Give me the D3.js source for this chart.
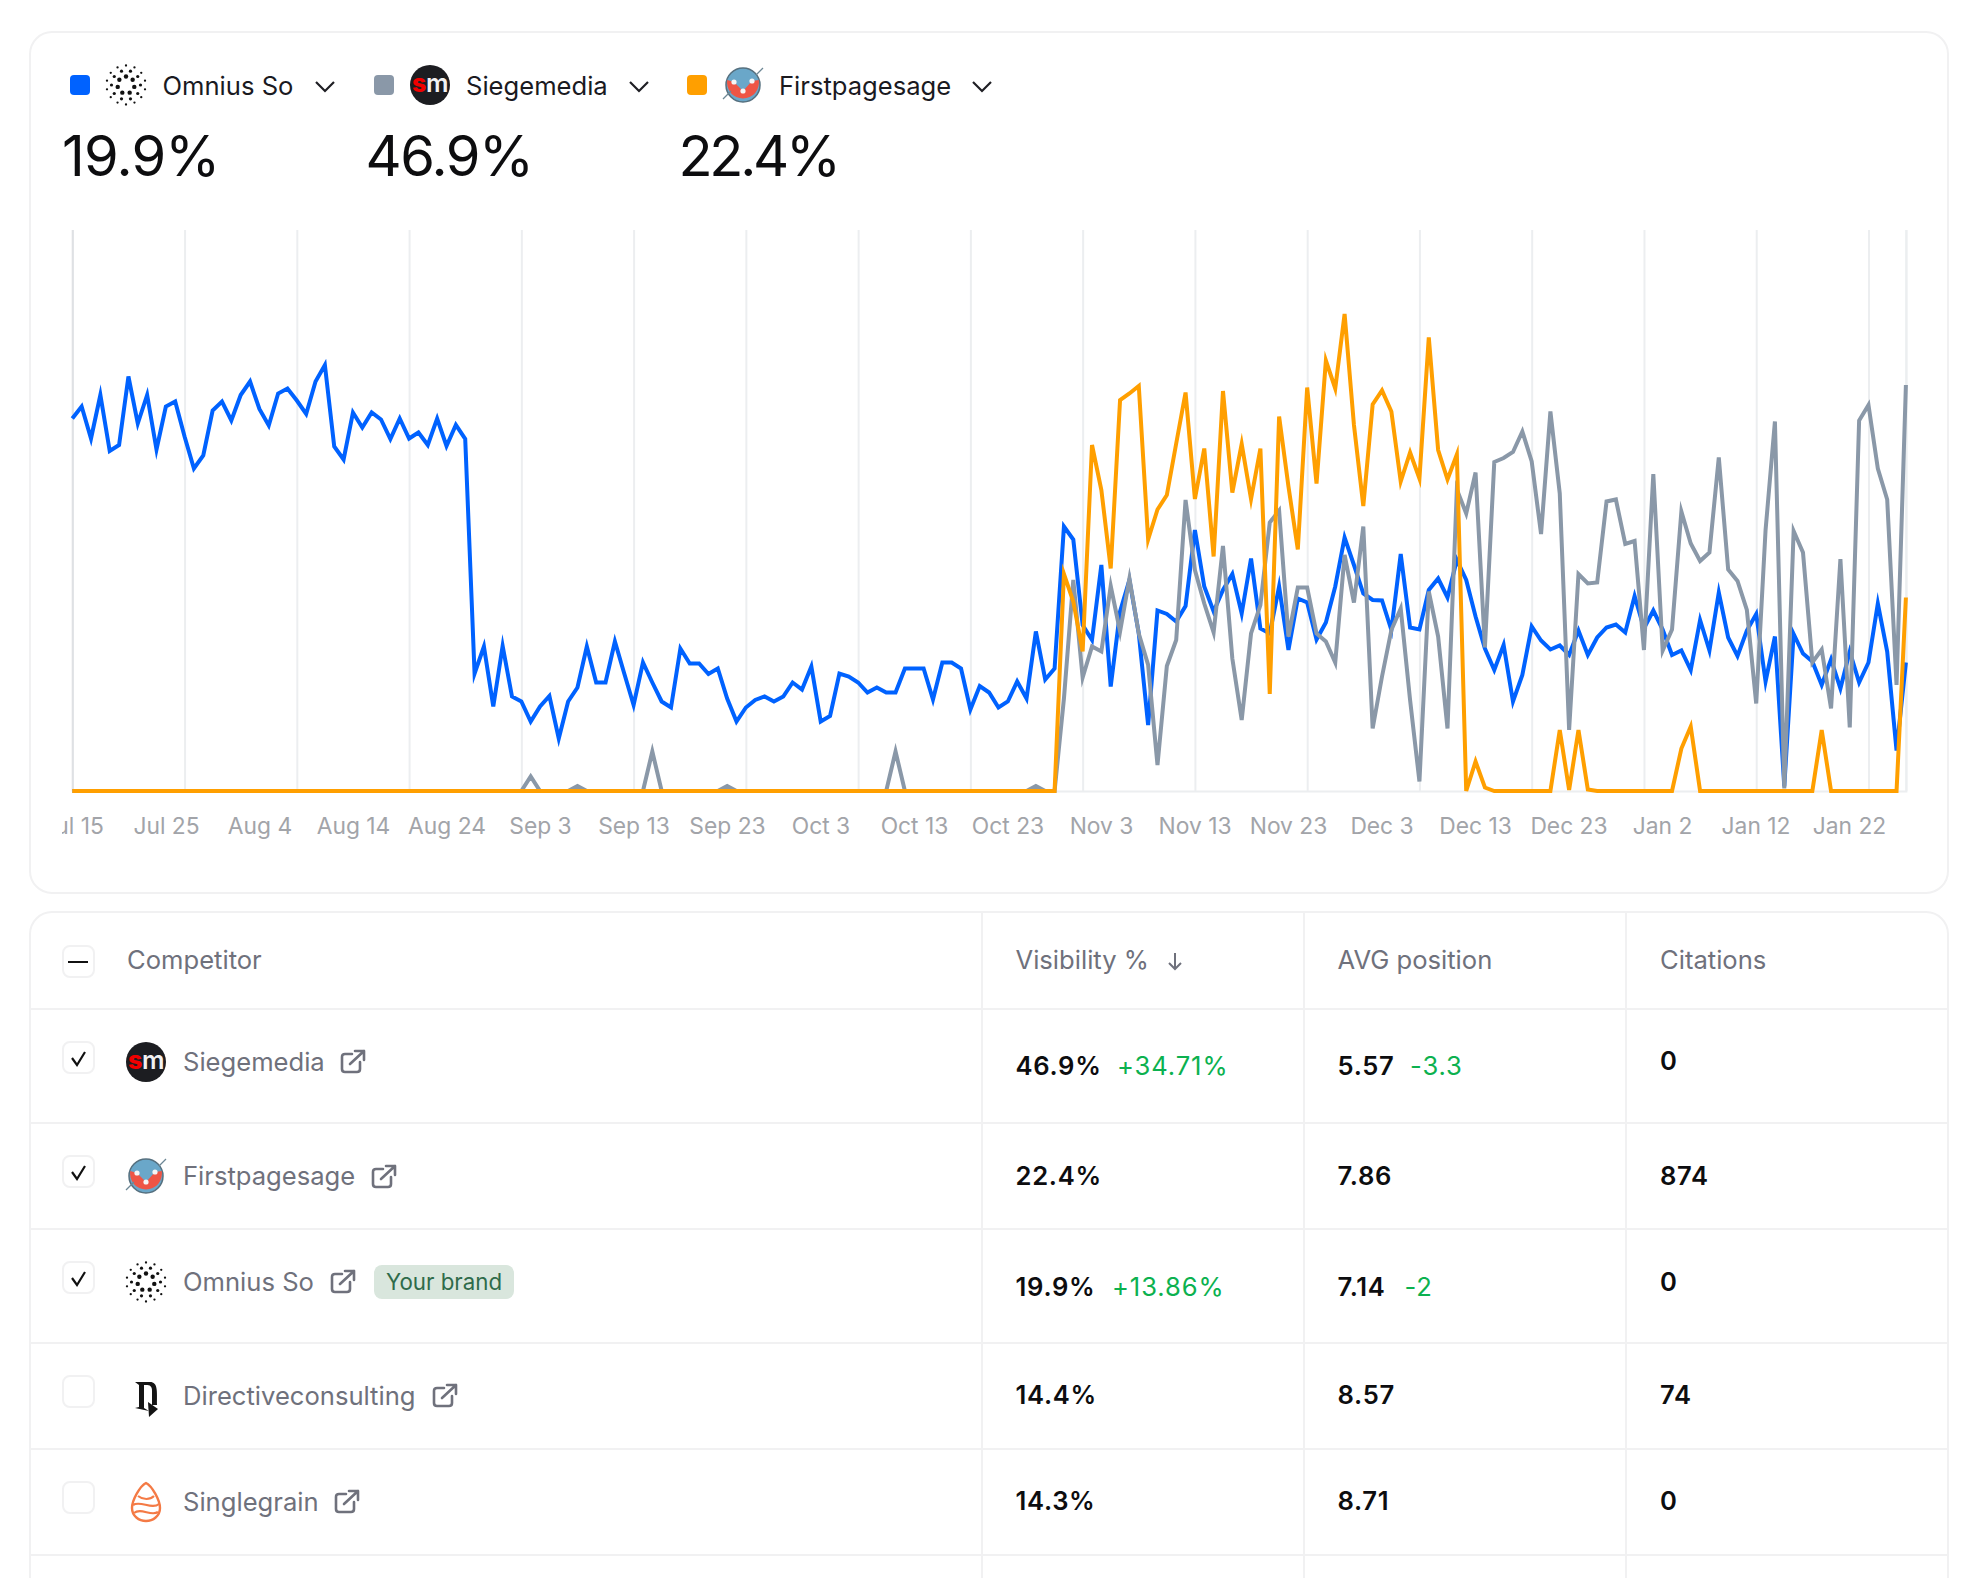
<!DOCTYPE html>
<html><head><meta charset="utf-8">
<script src="https://cdn.jsdelivr.net/npm/d3@7"></script>
<style>
html,body{margin:0;padding:0;background:#fff;overflow:hidden}
svg{display:block}
text{font-family:Inter,"Noto Sans",sans-serif}
</style></head><body>
<script>
const blue=[74.5,76.9,70.5,79.2,68.0,69.2,82.9,73.5,79.2,68.3,
76.9,77.9,70.9,64.5,67.1,76.1,77.9,74.1,79.2,81.9,
76.4,73.1,79.5,80.5,78.1,75.4,81.9,85.2,68.9,66.3,
75.7,72.7,75.7,74.3,70.4,74.5,70.5,71.7,69.2,74.5,
69.0,73.2,70.4,23.5,28.9,16.9,29.0,18.9,17.9,13.9,
16.9,19.0,10.5,17.9,20.7,28.9,21.7,21.7,29.9,23.5,
17.2,25.7,21.7,17.9,16.7,28.5,25.5,25.5,23.4,24.5,
18.5,13.9,16.7,18.2,18.9,17.9,18.9,21.7,20.3,24.9,
13.9,15.0,23.5,22.9,21.7,19.7,20.7,19.7,19.7,24.5,
24.5,24.5,18.3,25.7,25.7,24.5,16.3,21.0,19.7,16.7,
17.9,21.9,18.5,31.9,22.3,24.5,52.9,50.3,33.2,30.2,
45.2,20.9,35.9,42.2,31.5,13.2,36.1,35.4,33.9,37.0,
52.2,40.9,35.9,40.2,43.4,35.5,46.5,32.5,31.5,40.9,
28.2,38.5,37.7,30.3,33.7,40.9,50.7,45.2,39.5,38.2,
38.1,32.2,47.4,32.7,32.3,40.2,42.5,38.7,46.2,42.2,
34.9,28.5,24.2,29.2,17.9,23.2,32.9,30.1,28.3,29.1,
27.2,32.1,27.2,30.7,32.7,33.3,31.7,39.0,32.5,36.1,
32.3,27.2,28.1,24.2,34.2,28.1,39.7,30.7,27.0,32.1,
35.4,21.9,30.9,0.9,31.4,27.5,25.9,21.2,26.3,20.5,
27.9,21.7,25.7,37.5,27.9,8.1,25.7];
const gray=[0,0,0,0,0,0,0,0,0,0,
0,0,0,0,0,0,0,0,0,0,
0,0,0,0,0,0,0,0,0,0,
0,0,0,0,0,0,0,0,0,0,
0,0,0,0,0,0,0,0,0,2.9,
0,0,0,0,1.0,0,0,0,0,0,
0,0,7.9,0,0,0,0,0,0,0,
1.0,0,0,0,0,0,0,0,0,0,
0,0,0,0,0,0,0,0,7.9,0,
0,0,0,0,0,0,0,0,0,0,
0,0,0,1.0,0,0,18.5,42.2,22.7,28.9,
27.9,41.0,31.9,42.5,31.5,25.2,5.2,25.0,30.2,58.2,
44.2,37.5,31.7,49.0,26.5,14.2,31.5,37.2,53.7,56.1,
30.9,40.7,40.7,31.5,29.9,25.7,47.2,37.7,52.9,12.5,
22.9,32.2,36.5,18.2,1.9,39.9,30.9,12.5,60.3,55.5,
63.7,28.7,65.8,66.6,67.8,71.9,65.9,51.4,75.9,59.5,
12.2,43.4,41.5,41.7,57.9,58.3,49.4,50.0,28.2,63.4,
28.1,32.3,55.9,49.5,46.0,47.7,66.7,44.3,42.0,36.2,
17.5,52.2,73.9,0.5,52.0,47.7,25.7,28.3,16.5,46.4,
12.7,74.1,77.2,64.5,58.3,21.2,81.2];
const orange=[0,0,0,0,0,0,0,0,0,0,
0,0,0,0,0,0,0,0,0,0,
0,0,0,0,0,0,0,0,0,0,
0,0,0,0,0,0,0,0,0,0,
0,0,0,0,0,0,0,0,0,0,
0,0,0,0,0,0,0,0,0,0,
0,0,0,0,0,0,0,0,0,0,
0,0,0,0,0,0,0,0,0,0,
0,0,0,0,0,0,0,0,0,0,
0,0,0,0,0,0,0,0,0,0,
0,0,0,0,0,0,43.4,37.9,27.9,69.2,
60.2,44.5,78.2,79.5,81.0,50.3,56.3,59.2,69.5,79.7,
58.4,68.5,46.9,80.0,59.7,69.4,58.4,68.5,19.4,74.9,
60.9,48.3,80.7,61.5,86.1,80.5,95.4,73.2,57.0,77.3,
80.1,75.9,61.9,67.7,62.5,90.7,68.2,62.3,67.3,0,
5.9,0.7,0,0,0,0,0,0,0,12.2,
0.2,12.2,0.3,0,0,0,0,0,0,0,
0,0,8.5,12.9,0,0,0,0,0,0,
0,0,0,0,0,0,0,12.2,0,0,
0,0,0,0,0,0,38.7];
const tickLabels=["Jul 15","Jul 25","Aug 4","Aug 14","Aug 24","Sep 3","Sep 13","Sep 23","Oct 3","Oct 13","Oct 23","Nov 3","Nov 13","Nov 23","Dec 3","Dec 13","Dec 23","Jan 2","Jan 12","Jan 22"];
const gridIndex=[0,12,24,36,48,60,72,84,96,108,120,132,144,156,168,180,192,196];
const legendNames=["Omnius So","Siegemedia","Firstpagesage"];
const legendColors=["#0062ff","#8a98a8","#ff9f00"];
const legendValues=["19.9%","46.9%","22.4%"];
const headers=["Competitor","Visibility %","AVG position","Citations"];
const names=["Siegemedia","Firstpagesage","Omnius So","Directiveconsulting","Singlegrain"];
const visibility=["46.9%","22.4%","19.9%","14.4%","14.3%"];
const visibilityDelta=["+34.71%","","+13.86%","",""];
const avgPosition=["5.57","7.86","7.14","8.57","8.71"];
const avgDelta=["-3.3","","-2","",""];
const citations=["0","874","0","74","0"];
const checked=[true,true,true,false,false];

const svg=d3.select("body").append("svg").attr("width",1984).attr("height",1578);
const FS=25.6, GREY="#6f717c", INK="#0d0d0f", GREEN="#0cb14f", LINE="#f1f1f2";

// cards
svg.append("rect").attr("x",30).attr("y",32).attr("width",1918).attr("height",861).attr("rx",22).attr("fill","#fff").attr("stroke",LINE).attr("stroke-width",2);
svg.append("rect").attr("x",30).attr("y",912).attr("width",1918).attr("height",800).attr("rx",22).attr("fill","#fff").attr("stroke",LINE).attr("stroke-width",2);

// logos
function logo(g,kind,cx,cy){
  const l=g.append("g").attr("transform",`translate(${cx},${cy})`);
  if(kind==="Omnius So"){
    [[19.5,14,1.15],[14.5,10,1.6],[8.5,7,2.2]].forEach(([r,n,d],k)=>{
      d3.range(n).forEach(i=>{const a=(i+k*0.5)/n*2*Math.PI-Math.PI/2;
        l.append("circle").attr("cx",r*Math.cos(a)).attr("cy",r*Math.sin(a)).attr("r",d).attr("fill","#111");});
    });
  } else if(kind==="Siegemedia"){
    l.append("circle").attr("r",20).attr("fill","#1c1d21");
    const t=l.append("text").attr("text-anchor","middle").attr("y",7).attr("font-size",25).attr("font-weight",800).attr("letter-spacing",-0.5);
    t.append("tspan").attr("fill","#f10000").text("s");
    t.append("tspan").attr("fill","#f2f2f2").attr("font-weight",600).text("m");
  } else if(kind==="Firstpagesage"){
    l.append("circle").attr("r",17).attr("fill","#6aa7c9").attr("stroke","#56707f").attr("stroke-width",1.5);
    l.append("path").attr("d","M-15.8,-5 L-9,-3 L0,6 L9,-4 L15.8,-5 A16,16 0 1 1 -15.8,-5Z").attr("fill","#ee5545");
    l.append("path").attr("d","M-20,14 L-12,6 M13,-10 L20,-17").attr("fill","none").attr("stroke","#6d8795").attr("stroke-width",1.3);
    [[-9,-3],[0,6],[9,-4]].forEach(p=>l.append("circle").attr("cx",p[0]).attr("cy",p[1]).attr("r",2.6).attr("fill","#f5f5f5"));
  } else if(kind==="Directiveconsulting"){
    l.append("path").attr("d","M-11,-15 L4,-15 C12,-15 11,-6 11,8 L6,8 L6,-6 C6,-11 4,-12 0,-12 L-2,-12 L-2,11 L3,14 L-11,11 L-7,10 L-7,-12 Z").attr("fill","#141414");
    l.append("path").attr("d","M2,5 L12,12 L3,20 Z").attr("fill","#141414");
  } else {
    l.append("path").attr("d","M0,-19 C6,-16 14,-2 14,6 C14,14 7,19 0,19 C-7,19 -14,14 -14,6 C-14,-2 -6,-16 0,-19 Z").attr("fill","none").attr("stroke","#f47a45").attr("stroke-width",2.4);
    ["M-8,-6 C-3,-2 4,-2 8,-6","M-13,3 C-6,-2 6,8 13,2","M-12,11 C-5,5 5,15 12,10"].forEach(d=>l.append("path").attr("d",d).attr("fill","none").attr("stroke","#f47a45").attr("stroke-width",2.2));
  }
}
function linkIcon(x,y){
  const g=svg.append("g").attr("transform",`translate(${x},${y})`).attr("fill","none").attr("stroke",GREY).attr("stroke-width",2.6).attr("stroke-linecap","round").attr("stroke-linejoin","round");
  g.append("path").attr("d","M11,4 L4,4 Q1,4 1,7 L1,19 Q1,22 4,22 L16,22 Q19,22 19,19 L19,12");
  g.append("path").attr("d","M9,14 L23,1 M14,1 L23,1 L23,10");
}

// legend
const legendX=[{sw:70,lg:126,tx:162.5,ch:325,val:62,ls:-0.8},{sw:374,lg:430,tx:466,ch:639,val:365.5,ls:-1.5},{sw:687,lg:743,tx:779,ch:982,val:678.5,ls:-3.3}];
legendX.forEach((p,i)=>{
  svg.append("rect").attr("x",p.sw).attr("y",75).attr("width",20).attr("height",20).attr("rx",4).attr("fill",legendColors[i]);
  logo(svg,legendNames[i],p.lg,85);
  svg.append("text").attr("x",p.tx).attr("y",95).attr("font-size",FS).attr("fill","#1a1a1f").text(legendNames[i]);
  svg.append("path").attr("d",`M${p.ch-9},82 L${p.ch},91 L${p.ch+9},82`).attr("fill","none").attr("stroke","#1f1f24").attr("stroke-width",2.2);
  svg.append("text").attr("x",p.val).attr("y",176).attr("font-size",56).attr("font-weight",380).attr("letter-spacing",p.ls).attr("fill",INK).text(legendValues[i]);
});

// chart
const x=d3.scaleLinear().domain([0,196]).range([72.3,1905.9]);
const y=d3.scaleLinear().domain([0,112.2]).range([791,230]);
const gridAxis=d3.axisBottom(x).tickValues(gridIndex).tickSize(-(791-230)).tickFormat("");
const gridG=svg.append("g").attr("transform","translate(0,791)").call(gridAxis);
gridG.select(".domain").attr("stroke","#eceef0").attr("stroke-width",2);
gridG.selectAll(".tick line").attr("stroke","#eceef0").attr("stroke-width",2);
gridG.selectAll(".tick line").filter(d=>d===0).attr("stroke","#dfe1e4");

const labelX=d3.scalePoint().domain(tickLabels).range([72.5,1849]);
svg.append("clipPath").attr("id","lab").append("rect").attr("x",62).attr("y",790).attr("width",1880).attr("height",70);
const wrap=svg.append("g").attr("clip-path","url(#lab)");
const labelG=wrap.append("g").attr("transform","translate(0,791)").call(d3.axisBottom(labelX).tickSize(0).tickPadding(0));
labelG.select(".domain").remove();
labelG.selectAll("text").attr("y",43).attr("dy",0).attr("font-size",22.8).attr("font-family","Inter").attr("fill","#a2a4a9");

const line=d3.line().x((d,i)=>x(i)).y(d=>y(d)).curve(d3.curveLinear);
[[blue,legendColors[0]],[gray,legendColors[1]],[orange,legendColors[2]]].forEach(([s,c])=>{
  svg.append("path").datum(s).attr("d",line).attr("fill","none").attr("stroke",c).attr("stroke-width",4).attr("stroke-linejoin","miter").attr("stroke-miterlimit",6);
});

// table rules
[1009,1123,1229,1343,1449,1555].forEach(v=>svg.append("line").attr("x1",30).attr("x2",1948).attr("y1",v).attr("y2",v).attr("stroke",LINE).attr("stroke-width",2));
[982,1304,1626].forEach(v=>svg.append("line").attr("x1",v).attr("x2",v).attr("y1",913).attr("y2",1578).attr("stroke",LINE).attr("stroke-width",2));

// header
const colX=[127,1015.5,1337.5,1660];
headers.forEach((h,i)=>svg.append("text").attr("x",colX[i]).attr("y",969).attr("font-size",FS).attr("fill",GREY).text(h));
svg.append("path").attr("d","M1175,953 L1175,969 M1169,963 L1175,969 L1181,963").attr("fill","none").attr("stroke",GREY).attr("stroke-width",2);

function box(yt){svg.append("rect").attr("x",63).attr("y",yt).attr("width",31).attr("height",31).attr("rx",7).attr("fill","#fff").attr("stroke",LINE).attr("stroke-width",2);}
box(946);
svg.append("line").attr("x1",68).attr("x2",88).attr("y1",962).attr("y2",962).attr("stroke","#111").attr("stroke-width",2);

// rows
const boxY=[1042,1156,1262,1376,1482];
const logoY=[1062,1176,1282,1397,1502];
const nameY=[1071,1185,1291,1405,1511];
const iconX=[341,372,331,433,335];
const iconY=[1050,1165,1270,1384,1490];
const visY=[1075,1185,1296,1404,1510];
const citY=[1070,1185,1291,1404,1510];
const deltaVX=[1117,0,1112,0,0];
const deltaAX=[1410,0,1404.5,0,0];
const NUM=25.6;
names.forEach((n,i)=>{
  box(boxY[i]);
  if(checked[i]) svg.append("path").attr("d",`M72,${boxY[i]+16} L77,${boxY[i]+23} L85,${boxY[i]+10}`).attr("fill","none").attr("stroke","#111").attr("stroke-width",2.2);
  logo(svg,n,146,logoY[i]);
  svg.append("text").attr("x",183).attr("y",nameY[i]).attr("font-size",FS).attr("fill",GREY).text(n);
  linkIcon(iconX[i],iconY[i]);
  svg.append("text").attr("x",1015.5).attr("y",visY[i]).attr("font-size",NUM).attr("letter-spacing",0.7).attr("font-weight",600).attr("fill",INK).text(visibility[i]);
  if(visibilityDelta[i]) svg.append("text").attr("x",deltaVX[i]).attr("y",visY[i]).attr("font-size",NUM).attr("letter-spacing",0.9).attr("fill",GREEN).text(visibilityDelta[i]);
  svg.append("text").attr("x",1337.5).attr("y",visY[i]).attr("font-size",NUM).attr("letter-spacing",0.7).attr("font-weight",600).attr("fill",INK).text(avgPosition[i]);
  if(avgDelta[i]) svg.append("text").attr("x",deltaAX[i]).attr("y",visY[i]).attr("font-size",NUM).attr("letter-spacing",0.9).attr("fill",GREEN).text(avgDelta[i]);
  svg.append("text").attr("x",1660).attr("y",citY[i]).attr("font-size",NUM).attr("letter-spacing",0.7).attr("font-weight",600).attr("fill",INK).text(citations[i]);
});
svg.append("rect").attr("x",374).attr("y",1265).attr("width",140).attr("height",34).attr("rx",8).attr("fill","#d9e6dd");
svg.append("text").attr("x",386).attr("y",1289.5).attr("font-size",22.3).attr("fill","#2f6b4a").text("Your brand");
</script>
</body></html>
